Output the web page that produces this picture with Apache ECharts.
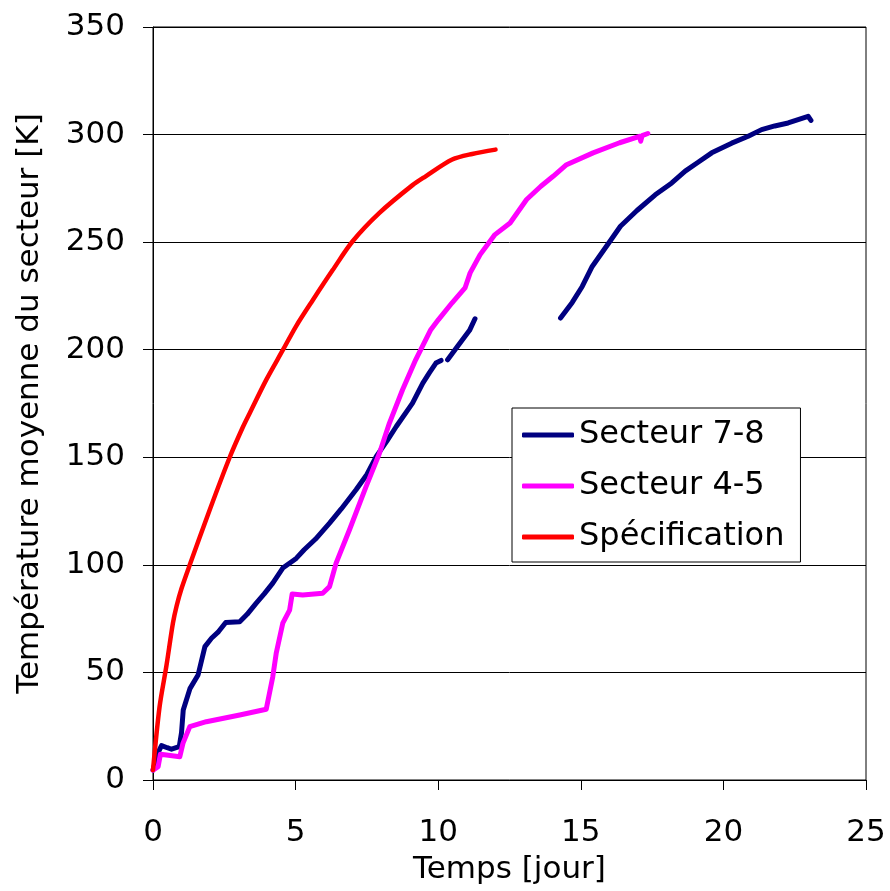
<!DOCTYPE html>
<html>
<head>
<meta charset="utf-8">
<script src="https://cdn.jsdelivr.net/npm/echarts@6/dist/echarts.min.js"></script>
<style>
  html, body { margin: 0; padding: 0; background: #fff; }
  #chart { width: 890px; height: 891px; }
</style>
</head>
<body>
<div id="chart"></div>
<script>
// [jour, K] ; '-' = coupure dans la courbe
var secteur78 = [
  [0, 4.6], [0.15, 12], [0.3, 16], [0.5, 15], [0.65, 14.3], [0.92, 15.5],
  [1.0, 22], [1.06, 32.5], [1.3, 42.6], [1.58, 48.8], [1.82, 62], [2.05, 65.9],
  [2.3, 69], [2.55, 73.2], [3.04, 73.6], [3.3, 77], [3.62, 82.2], [3.9, 86.5],
  [4.2, 91.5], [4.55, 98.5], [5.02, 103], [5.3, 107], [5.7, 112], [6.19, 119.4],
  [6.6, 126], [7.12, 134.9], [7.5, 142], [7.83, 150.4], [8.2, 157.5], [8.53, 164.3],
  [9.1, 175.2], [9.46, 184.5], [9.7, 189.5], [9.92, 193.8], [10.1, 195],
  [10.2, '-'],
  [10.33, 195.3], [10.7, 202], [11.1, 209], [11.29, 214.4],
  [12.5, '-'],
  [14.29, 214.7], [14.7, 222], [15.05, 229.4], [15.4, 238.7], [15.98, 249.6],
  [16.39, 257.4], [16.97, 264.7], [17.61, 272], [18.19, 277.5], [18.66, 283],
  [19.1, 287], [19.59, 291.5], [20.29, 296], [20.87, 299.2], [21.34, 302.3],
  [21.8, 304], [22.27, 305.4], [22.97, 308.5], [23.07, 306.6]
];
var secteur45 = [
  [0, 4.6], [0.18, 6.2], [0.26, 12], [0.47, 11.6], [0.94, 10.8], [1.05, 17],
  [1.29, 24.8], [1.87, 27.1], [3.04, 30.2], [3.97, 32.9], [4.2, 48], [4.32, 58.9],
  [4.55, 72.9], [4.79, 79], [4.88, 86.5], [5.25, 86], [5.95, 86.8], [6.19, 89.9],
  [6.42, 100.8], [6.89, 116.3], [7.47, 136.4], [7.94, 151.9], [8.29, 165.9],
  [8.75, 181.4], [9.21, 195.3], [9.74, 209.3], [10.01, 214], [10.48, 221.7],
  [10.94, 228.7], [11.12, 235.7], [11.47, 244.2], [11.99, 253.5], [12.52, 258.9],
  [13.1, 269.8], [13.6, 276], [14.03, 280.6], [14.5, 286], [15.43, 291.5],
  [16.36, 296.2], [17.06, 299.2], [17.1, 296.9], [17.15, 299.5], [17.35, 300.5]
];
var specification = [
  [0, 4.6], [0.23, 34], [0.47, 53], [0.7, 73], [0.83, 81], [1.0, 89],
  [1.29, 100], [1.99, 125.6], [2.69, 150], [3.16, 164.3], [3.39, 170.5],
  [3.97, 186], [4.56, 200], [5.02, 211], [5.6, 223], [6.3, 237], [7.0, 250.4],
  [7.94, 263.6], [9.1, 276.5], [9.56, 280.6], [10.49, 288.4], [11.19, 291], [12.01, 293]
];
var seriesNames = ["Secteur 7-8", "Secteur 4-5", "Spécification"];
var seriesColors = ["#000080", "#ff00ff", "#ff0000"];

var font = "DejaVu Sans";
var myChart = echarts.init(document.getElementById("chart"), null, { renderer: "canvas" });
var option = {
  animation: false,
  backgroundColor: "#fff",
  grid: {
    left: 153,
    right: 24,
    top: 27,
    bottom: 111,
    show: true,
    borderColor: "#000",
    borderWidth: 1,
  },
  legend: {
    orient: "vertical",
    left: 512,
    top: 408,
    padding: [11, 16, 9, 10],
    icon: "roundRect",
    itemWidth: 52,
    itemHeight: 5,
    itemGap: 19,
    backgroundColor: "#fff",
    borderColor: "#000",
    borderWidth: 1,
    textStyle: { fontFamily: font, fontSize: 32, color: "#000", lineHeight: 32 },
    data: seriesNames,
  },
  xAxis: {
    type: "value",
    min: 0,
    max: 25,
    interval: 5,
    name: "Temps [jour]",
    nameLocation: "middle",
    nameGap: 74,
    nameTextStyle: { fontFamily: font, fontSize: 31, color: "#000" },
    axisLine: { lineStyle: { color: "#000", width: 1 } },
    axisTick: { inside: false, length: 10, lineStyle: { color: "#000" } },
    axisLabel: { margin: 37, fontFamily: font, fontSize: 31, color: "#000" },
    splitLine: { show: false },
  },
  yAxis: {
    type: "value",
    min: 0,
    max: 350,
    interval: 50,
    name: "Température moyenne du secteur [K]",
    nameLocation: "middle",
    nameGap: 108,
    nameTextStyle: { fontFamily: font, fontSize: 31, color: "#000" },
    axisLine: { show: true, lineStyle: { color: "#000", width: 1 } },
    axisTick: { show: true, inside: false, length: 10, lineStyle: { color: "#000" } },
    axisLabel: { margin: 28, fontFamily: font, fontSize: 31, color: "#000" },
    splitLine: { show: true, lineStyle: { color: "#000", width: 1 } },
  },
  series: [
    {
      name: seriesNames[0],
      type: "line",
      data: secteur78,
      symbol: "none",
      connectNulls: false,
      itemStyle: { color: seriesColors[0] },
      lineStyle: { color: seriesColors[0], width: 5, cap: "round", join: "round" },
    },
    {
      name: seriesNames[1],
      type: "line",
      data: secteur45,
      symbol: "none",
      itemStyle: { color: seriesColors[1] },
      lineStyle: { color: seriesColors[1], width: 5, cap: "round", join: "round" },
    },
    {
      name: seriesNames[2],
      type: "line",
      data: specification,
      symbol: "none",
      smooth: 0.3,
      itemStyle: { color: seriesColors[2] },
      lineStyle: { color: seriesColors[2], width: 4.5, cap: "round", join: "round" },
    },
  ],
};
myChart.setOption(option);
</script>
</body>
</html>
